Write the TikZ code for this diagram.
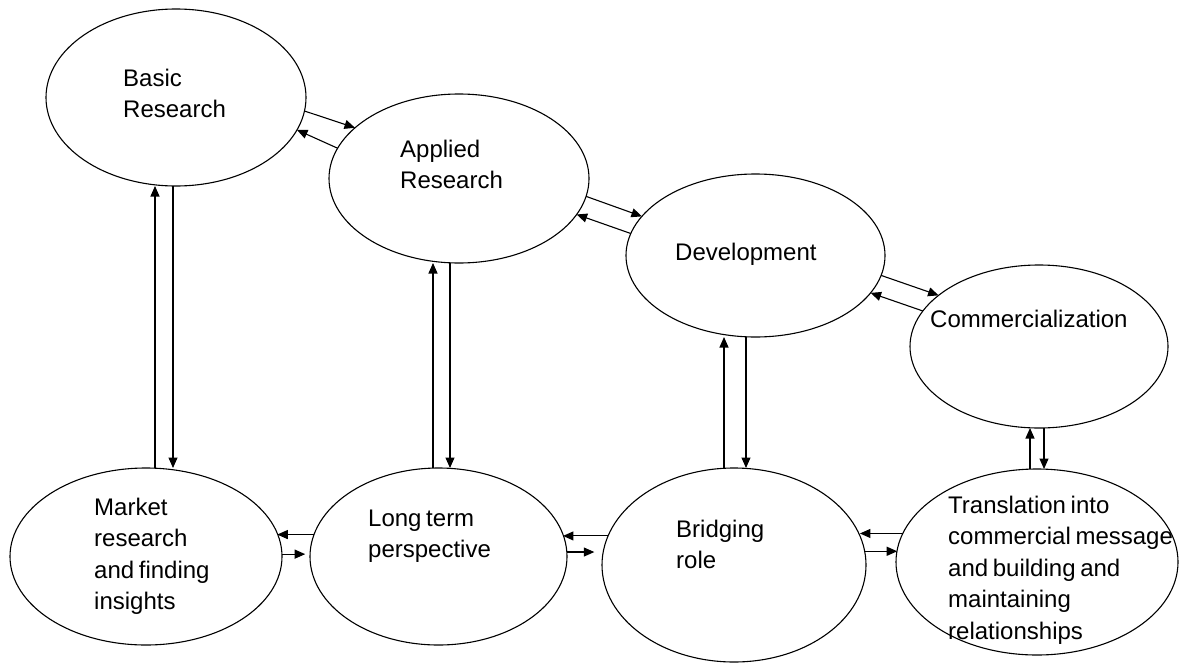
\documentclass[tikz,border=0pt]{standalone}
\usepackage{fontspec}
\setmainfont{Liberation Sans}[WordSpace=0.7]
\usepackage{tikz}
\usetikzlibrary{shapes.geometric,arrows.meta}

\begin{document}
\begin{tikzpicture}[x=1pt,y=1pt,yscale=-1,xscale=1,
  oval/.style={ellipse, draw, line width=1.1pt, inner sep=0pt, outer sep=0pt},
  lbl/.style={anchor=north west, inner sep=0pt, align=left, font=\fontsize{24}{31.5}\selectfont},
  arr/.style={line width=1.1pt, -{Triangle[length=10.5pt,width=9pt]}}]
\useasboundingbox (0,0) rectangle (1185,664);

%Ellipses
\node [oval, minimum width=260pt, minimum height=177pt] (basic) at (176,97.5) {};
\node [oval, minimum width=260pt, minimum height=169pt] (applied) at (459,178.5) {};
\node [oval, minimum width=259pt, minimum height=163pt] (devel) at (755.5,255.5) {};
\node [oval, minimum width=258pt, minimum height=163pt] (comm) at (1039,346.5) {};
\node [oval, minimum width=272pt, minimum height=177pt] (market) at (146,556.5) {};
\node [oval, minimum width=257pt, minimum height=177pt] (longterm) at (438.5,556.5) {};
\node [oval, minimum width=264pt, minimum height=194pt] (bridging) at (734,565) {};
\node [oval, minimum width=282pt, minimum height=186pt] (transl) at (1037,562) {};

% Text Node
\node [lbl] (tbasic) at (123,68.5) {Basic\\Research};
% Text Node
\node [lbl] (tapplied) at (400,139.5) {Applied\\Research};
% Text Node
\node [lbl] (tdevel) at (675,242.5) {Development};
% Text Node
\node [lbl] (tcomm) at (930,309.5) {Commercialization};
% Text Node
\node [lbl] (tmarket) at (94,497.5) {Market\\research\\and finding\\insights};
% Text Node
\node [lbl] (tlongterm) at (368,509.5) {Long term\\perspective};
% Text Node
\node [lbl] (tbridging) at (676,519.5) {Bridging\\role};
% Text Node
\node [lbl] (ttransl) at (948,495.5) {Translation into\\commercial message\\and building and\\maintaining\\relationships};

%Straight Lines (top row)
\draw [arr] (basic.-6.5) -- (applied.154);
\draw [arr] (applied.166) -- (basic.-15.5);
\draw [arr] (applied.-8.7) -- (devel.161);
\draw [arr] (devel.170.7) -- (applied.-17.9);
\draw [arr] (devel.-9.9) -- (comm.153.7);
\draw [arr] (comm.163.9) -- (devel.-18.7);

%Straight Lines (vertical)
\draw [arr] ([xshift=9pt]market.north) -- ([xshift=-21pt]basic.south);
\draw [arr] ([xshift=-3pt]basic.south) -- ([xshift=27pt]market.north);
\draw [arr] ([xshift=-5.5pt]longterm.north) -- ([xshift=-26pt]applied.south);
\draw [arr] ([xshift=-9pt]applied.south) -- ([xshift=11.5pt]longterm.north);
\draw [arr] ([xshift=-10pt]bridging.north) -- ([xshift=-31.5pt]devel.south);
\draw [arr] ([xshift=-9.5pt]devel.south) -- ([xshift=12pt]bridging.north);
\draw [arr] ([xshift=-7pt]transl.north) -- ([xshift=-9pt]comm.south);
\draw [arr] ([xshift=5pt]comm.south) -- ([xshift=7pt]transl.north);

%Straight Lines (bottom row)
\draw [arr] (longterm.170) -- (market.10 |- longterm.170);
\draw [arr, shorten >=5pt] (market.1.9) -- (longterm.178 |- market.1.9);
\draw [arr] (bridging.167) -- (longterm.10.5 |- bridging.167);
\draw [arr, shorten >=9pt] (longterm.2) -- (bridging.174.8 |- longterm.2);
\draw [arr] (transl.168.2) -- (bridging.13.7 |- transl.168.2);
\draw [arr] (bridging.6.2) -- (transl.175.1 |- bridging.6.2);

\end{tikzpicture}
\end{document}
